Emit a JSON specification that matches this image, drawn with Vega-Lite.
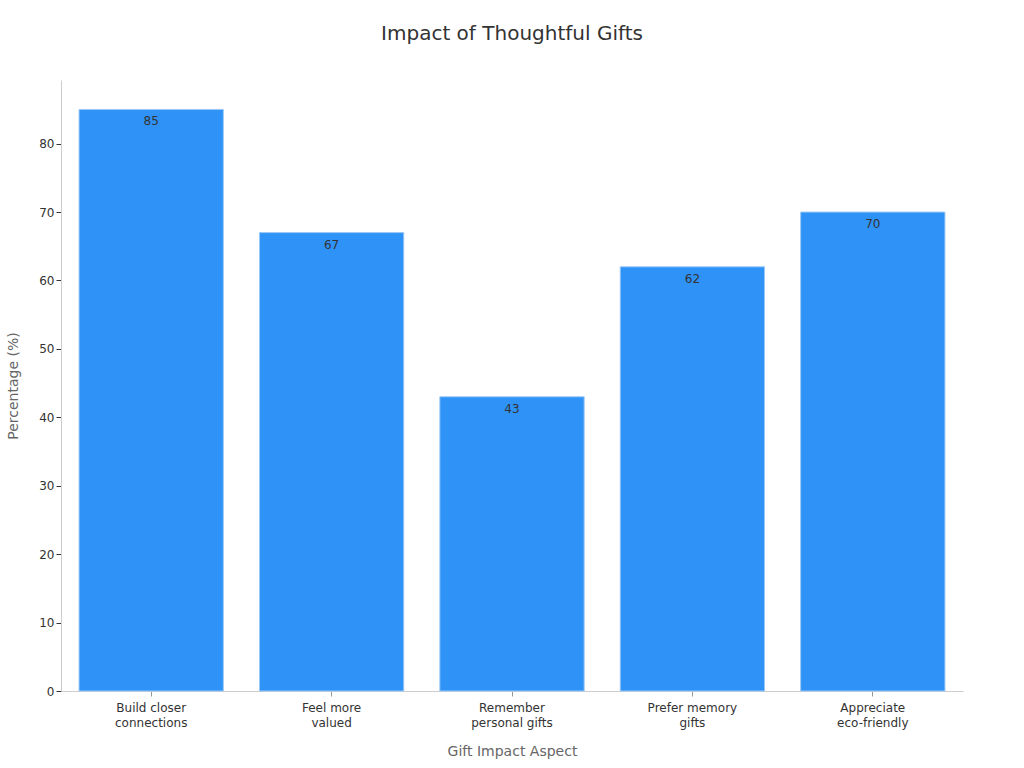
{
  "$schema": "https://vega.github.io/schema/vega-lite/v6.json",
  "width": 902,
  "height": 611,
  "autosize": {"type": "none"},
  "padding": {"left": 61, "top": 80, "right": 61, "bottom": 77},
  "background": "white",
  "config": {"font": "DejaVu Sans", "view": {"stroke": null}},
  "title": {"text": "Impact of Thoughtful Gifts", "fontSize": 20, "fontWeight": "normal", "color": "#333333", "offset": 36, "anchor": "middle"},
  "data": {"values": [
    {"aspect": "Build closer connections", "value": 85},
    {"aspect": "Feel more valued", "value": 67},
    {"aspect": "Remember personal gifts", "value": 43},
    {"aspect": "Prefer memory gifts", "value": 62},
    {"aspect": "Appreciate eco-friendly", "value": 70}
  ]},
  "encoding": {
    "x": {"field": "aspect", "type": "nominal", "sort": null,
      "scale": {"paddingInner": 0.2, "paddingOuter": 0.1},
      "axis": {"title": "Gift Impact Aspect", "titleFontSize": 14, "titleFontWeight": "normal", "titleColor": "#666666", "titlePadding": 16,
        "labelAngle": 0, "labelFontSize": 12, "labelColor": "#333333", "labelPadding": 6, "labelLineHeight": 15,
        "labelExpr": "datum.label == 'Build closer connections' ? ['Build closer','connections'] : datum.label == 'Feel more valued' ? ['Feel more','valued'] : datum.label == 'Remember personal gifts' ? ['Remember','personal gifts'] : datum.label == 'Prefer memory gifts' ? ['Prefer memory','gifts'] : ['Appreciate','eco-friendly']",
        "domainColor": "#cccccc", "tickColor": "#999999", "tickSize": 5}},
    "y": {"field": "value", "type": "quantitative",
      "scale": {"domain": [0, 89.3], "nice": false},
      "axis": {"title": "Percentage (%)", "titleFontSize": 14, "titleFontWeight": "normal", "titleColor": "#666666", "titlePadding": 18,
        "values": [0,10,20,30,40,50,60,70,80], "grid": false, "labelFontSize": 12, "labelColor": "#333333",
        "domainColor": "#cccccc", "tickColor": "#333333", "tickSize": 5}}
  },
  "layer": [
    {"mark": {"type": "bar", "color": "#2f92f6", "stroke": "#9cc9f7", "strokeWidth": 1}},
    {"mark": {"type": "text", "baseline": "top", "dy": 7, "fontSize": 12, "color": "#333333"},
     "encoding": {"text": {"field": "value", "type": "quantitative"}}}
  ]
}
